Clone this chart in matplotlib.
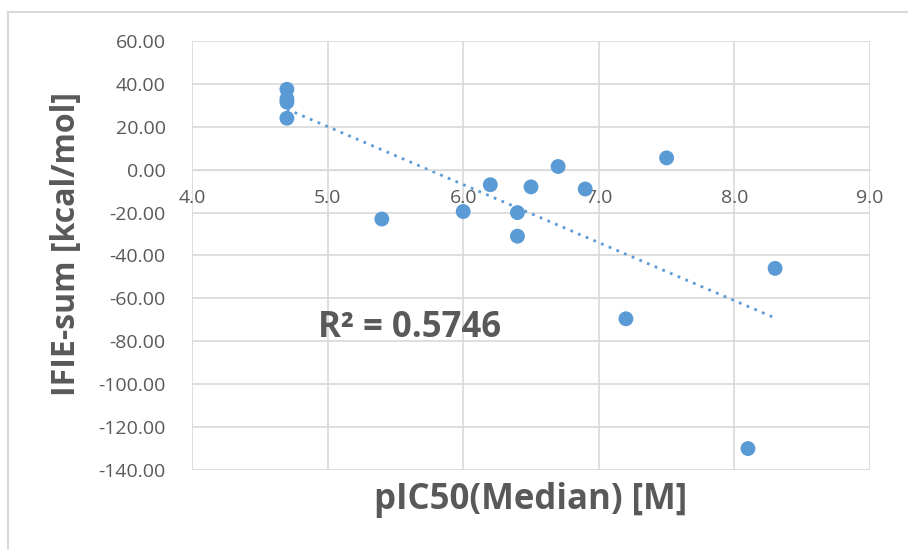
import numpy as np
import matplotlib.pyplot as plt
from matplotlib.lines import Line2D

plt.rcParams['font.family'] = ['Open Sans', 'DejaVu Sans']

# data
pic50 = [4.7, 4.7, 4.7, 4.7, 5.4, 6.0, 6.2, 6.4, 6.4, 6.5, 6.7, 6.9, 7.2, 7.5, 8.1, 8.3]
ifie = [37.5, 33.0, 31.5, 24.0, -23.0, -19.5, -7.0, -20.0, -31.0, -8.0, 1.5, -9.0, -69.5, 5.5, -130.0, -46.0]
xticks = [4.0, 5.0, 6.0, 7.0, 8.0, 9.0]
yticks = [60, 40, 20, 0, -20, -40, -60, -80, -100, -120, -140]
r2_text = 'R² = 0.5746'

grey = '#595959'
blue = '#5b9bd5'

fig = plt.figure(figsize=(9.08, 5.5), dpi=100)
ax = fig.add_axes([192/908, 1-470/550, (870-192)/908, (470-41)/550])

ax.set_xlim(4.0, 9.0)
ax.set_ylim(-140, 60)
ax.set_xticks(xticks)
ax.set_yticks(yticks)
ax.set_xticklabels(['%.1f' % v for v in xticks])
ax.set_yticklabels(['%.2f' % v for v in yticks])
ax.grid(True, color='#d9d9d9', lw=1.2)
ax.set_axisbelow(True)
for s in ax.spines.values():
    s.set_visible(False)
# x axis sits at y = 0 like in Excel
ax.spines['bottom'].set_visible(True)
ax.spines['bottom'].set_position(('data', 0))
ax.spines['bottom'].set_color('#d9d9d9')
ax.tick_params(axis='both', length=0, labelsize=14, labelcolor=grey)
ax.tick_params(axis='x', pad=14)
ax.tick_params(axis='y', pad=19)

ax.scatter(pic50, ifie, s=115, color=blue, zorder=3, edgecolors='none')

# linear trendline
x = np.array(pic50)
y = np.array(ifie)
m, c = np.polyfit(x, y, 1)
xs = np.array([x.min(), x.max()])
ax.plot(xs, m*xs + c, ls=(0, (1, 2)), lw=2, color=blue, zorder=2)

ax.text(4.93, -74, r2_text, fontsize=25, fontweight='bold', color=grey,
        ha='left', va='center')

fig.text(67/908, 1-244/550, 'IFIE-sum [kcal/mol]', rotation=90, fontsize=23,
         fontweight='bold', color=grey, ha='center', va='center')
fig.text(531/908, 1-500/550, 'pIC50(Median) [M]', fontsize=25,
         fontweight='bold', color=grey, ha='center', va='center')

# outer chart border (top and left only visible)
fig.add_artist(Line2D([8/908, 1], [1-12/550, 1-12/550], color='#d9d9d9', lw=1.5))
fig.add_artist(Line2D([8/908, 8/908], [0, 1-12/550], color='#d9d9d9', lw=1.5))

fig.savefig('out.png', dpi=100, facecolor='white')
